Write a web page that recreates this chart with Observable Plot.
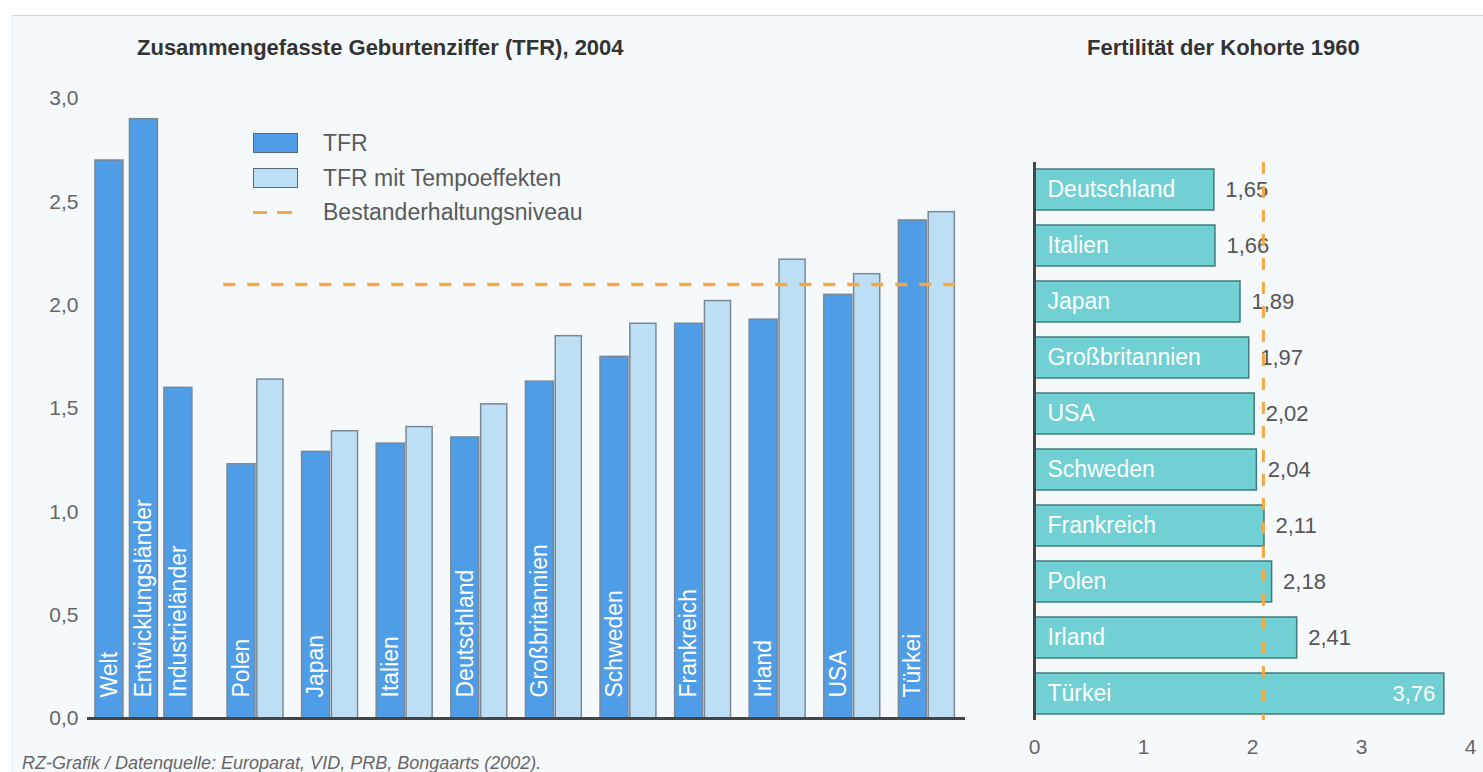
<!DOCTYPE html>
<html>
<head>
<meta charset="utf-8">
<script src="https://cdn.jsdelivr.net/npm/d3@7"></script>
<script src="https://cdn.jsdelivr.net/npm/@observablehq/plot@0.6"></script>
<style>
  html, body { margin: 0; padding: 0; background: #ffffff; }
  body { width: 1483px; height: 772px; overflow: hidden; font-family: "Liberation Sans", Arial, sans-serif; }
  #stage { position: relative; width: 1483px; height: 772px; }
  #panel { position: absolute; left: 12px; top: 15px; width: 1471px; height: 757px; background: #f6f9fc;
           border-top: 1px solid #cfd4d9; border-left: 1px solid #e2e8ee; }
  .abs { position: absolute; }
  .title { font-weight: bold; font-size: 22px; line-height: 22px; color: #333; white-space: nowrap; }
  .legtext { font-size: 23px; line-height: 24px; color: #5a5a5a; white-space: nowrap; }
  .caption { font-style: italic; font-size: 18px; line-height: 20px; color: #666; white-space: nowrap; }
  #left, #right { position: absolute; top: 0; }
  #left { left: 0; }
  #right { left: 990px; }
</style>
</head>
<body>
<div id="stage">
  <div id="panel"></div>
  <div id="left"></div>
  <div id="right"></div>
</div>
<script>
// ---------- Data ----------
const aggNames = ["Welt", "Entwicklungsländer", "Industrieländer"];
const aggTFR = [2.70, 2.90, 1.60];

const countries = ["Polen", "Japan", "Italien", "Deutschland", "Großbritannien", "Schweden", "Frankreich", "Irland", "USA", "Türkei"];
const tfr =       [1.23, 1.29, 1.33, 1.36, 1.63, 1.75, 1.91, 1.93, 2.05, 2.41];
const tfrTempo =  [1.64, 1.39, 1.41, 1.52, 1.85, 1.91, 2.02, 2.22, 2.15, 2.45];
const replacementLevel = 2.1;
const yTicks = [0, 0.5, 1, 1.5, 2, 2.5, 3];

const cohortCountries = ["Deutschland", "Italien", "Japan", "Großbritannien", "USA", "Schweden", "Frankreich", "Polen", "Irland", "Türkei"];
const cohortValues =    [1.65, 1.66, 1.89, 1.97, 2.02, 2.04, 2.11, 2.18, 2.41, 3.76];
const xTicks = [0, 1, 2, 3, 4];

const seriesNames = ["TFR", "TFR mit Tempoeffekten"];
const legendReplacement = "Bestanderhaltungsniveau";
const leftTitle = "Zusammengefasste Geburtenziffer (TFR), 2004";
const rightTitle = "Fertilität der Kohorte 1960";
const captionText = "RZ-Grafik / Datenquelle: Europarat, VID, PRB, Bongaarts (2002).";

// ---------- Styles ----------
const DARK = "#4f9de6", LIGHT = "#bcdff6", BAR_STROKE = "#7a8896";
const TEAL = "#70d0d4", TEAL_STROKE = "#3f7b7e";
const ORANGE = "#f2a944";
const FONT = "Liberation Sans, Arial, sans-serif";
const comma = (d, n) => d.toFixed(n).replace(".", ",");

// Layout in group units (one unit = one country group)
const AGG_START = -1.77, AGG_STEP = 0.462, AGG_W = 0.375;
const DARK_W = 0.375, LIGHT_OFF = 0.40, LIGHT_W = 0.35;

const bars = [];
aggNames.forEach((name, k) => {
  const x1 = AGG_START + k * AGG_STEP;
  bars.push({name, series: seriesNames[0], value: aggTFR[k], x1, x2: x1 + AGG_W, label: true});
});
countries.forEach((name, i) => {
  bars.push({name, series: seriesNames[0], value: tfr[i], x1: i, x2: i + DARK_W, label: true});
  bars.push({name, series: seriesNames[1], value: tfrTempo[i], x1: i + LIGHT_OFF, x2: i + LIGHT_OFF + LIGHT_W, label: false});
});

const left = Plot.plot({
  width: 1000, height: 772,
  marginTop: 98, marginBottom: 54, marginLeft: 87, marginRight: 35,
  style: {background: "transparent", fontFamily: FONT, overflow: "visible"},
  x: {domain: [-1.877, 9.893], axis: null},
  y: {domain: [0, 3]},
  color: {domain: seriesNames, range: [DARK, LIGHT]},
  marks: [
    Plot.rectY(bars, {x1: "x1", x2: "x2", y: "value", fill: "series", stroke: BAR_STROKE, strokeWidth: 1.5}),
    Plot.ruleY([replacementLevel], {x1: -0.05, x2: 9.893, stroke: ORANGE, strokeWidth: 3.5, strokeDasharray: "12,12"}),
    Plot.ruleY([0], {stroke: "#454545", strokeWidth: 3}),
    Plot.text(bars.filter(d => d.label), {
      x: d => (d.x1 + d.x2) / 2, y: 0, text: "name", rotate: -90, textAnchor: "start",
      dy: -21, fill: "white", fontSize: 23
    }),
    Plot.axisY(yTicks, {tickSize: 0, tickPadding: 9, fontSize: 21, fill: "#666",
      tickFormat: d => comma(d, 1), label: null})
  ]
});
document.getElementById("left").appendChild(left);

const cohort = cohortCountries.map((name, i) => ({name, value: cohortValues[i]}));

const right = Plot.plot({
  width: 493, height: 772,
  marginTop: 162, marginBottom: 52, marginLeft: 44, marginRight: 13,
  style: {background: "transparent", fontFamily: FONT, overflow: "visible"},
  x: {domain: [0, 4]},
  y: {domain: cohortCountries, paddingInner: 0.27, paddingOuter: 0.08, axis: null},
  marks: [
    Plot.barX(cohort, {x: "value", y: "name", fill: TEAL, stroke: TEAL_STROKE, strokeWidth: 1.5}),
    Plot.text(cohort, {x: 0, y: "name", text: "name", textAnchor: "start", dx: 13, fill: "white", fontSize: 23}),
    Plot.text(cohort.filter(d => d.value < 3), {x: "value", y: "name", text: d => comma(d.value, 2),
      textAnchor: "start", dx: 11, fill: "#555", fontSize: 22}),
    Plot.text(cohort.filter(d => d.value >= 3), {x: "value", y: "name", text: d => comma(d.value, 2),
      textAnchor: "end", dx: -9, fill: "white", fontSize: 22}),
    Plot.ruleX([replacementLevel], {stroke: ORANGE, strokeWidth: 3, strokeDasharray: "12,12"}),
    Plot.ruleX([0], {stroke: "#454545", strokeWidth: 3}),
    Plot.axisX(xTicks, {tickSize: 0, tickPadding: 19, fontSize: 21, fill: "#666", tickFormat: d => String(d), label: null})
  ]
});
document.getElementById("right").appendChild(right);

// ---------- Titles, legend, caption ----------
const stage = document.getElementById("stage");
function addDiv(cls, text, css) {
  const el = document.createElement("div");
  el.className = "abs " + cls;
  if (text != null) el.textContent = text;
  Object.assign(el.style, css);
  stage.appendChild(el);
  return el;
}
addDiv("title", leftTitle, {left: "137px", top: "37px"});
addDiv("title", rightTitle, {left: "1087px", top: "37px"});

// legend
addDiv("", null, {left: "253px", top: "133px", width: "43px", height: "18px", background: DARK, border: "1.5px solid #55697a"});
addDiv("legtext", seriesNames[0], {left: "323px", top: "131px"});
addDiv("", null, {left: "253px", top: "168px", width: "43px", height: "18px", background: LIGHT, border: "1.5px solid #55697a"});
addDiv("legtext", seriesNames[1], {left: "323px", top: "166px"});
addDiv("", null, {left: "253px", top: "211px", width: "14px", height: "3px", background: ORANGE});
addDiv("", null, {left: "277px", top: "211px", width: "15px", height: "3px", background: ORANGE});
addDiv("legtext", legendReplacement, {left: "323px", top: "200px"});

addDiv("caption", captionText, {left: "22px", top: "753px"});
</script>
</body>
</html>
